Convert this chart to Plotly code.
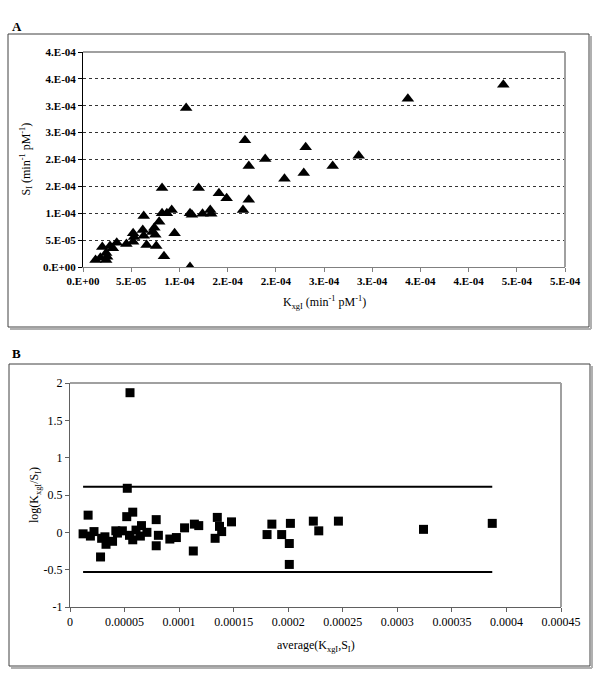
import plotly.graph_objects as go

# ---------------- Panel A data ----------------
kxgi = [1.3e-5, 1.8e-5, 2.4e-5, 2.4e-5, 2.0e-5, 2.8e-5, 3.1e-5, 3.5e-5, 4.5e-5, 5.2e-5,
        5.3e-5, 5.2e-5, 6.2e-5, 6.3e-5, 6.3e-5, 6.6e-5, 7.2e-5, 7.5e-5, 7.4e-5, 7.6e-5,
        7.9e-5, 8.2e-5, 8.2e-5, 8.7e-5, 9.2e-5, 9.5e-5, 8.4e-5, 1.11e-4, 1.11e-4, 1.13e-4,
        1.07e-4, 1.20e-4, 1.24e-4, 1.32e-4, 1.33e-4, 1.41e-4, 1.49e-4, 1.66e-4, 1.72e-4, 1.72e-4,
        1.68e-4, 1.89e-4, 2.09e-4, 2.29e-4, 2.31e-4, 2.59e-4, 2.86e-4, 3.37e-4, 4.36e-4, 2.5e-5]
si = [1.3e-5, 1.7e-5, 1.3e-5, 2.6e-5, 3.7e-5, 3.9e-5, 3.5e-5, 4.5e-5, 4.3e-5, 4.7e-5,
      5.6e-5, 6.3e-5, 6.9e-5, 5.8e-5, 9.5e-5, 4.1e-5, 6.5e-5, 6.0e-5, 7.3e-5, 3.9e-5,
      8.4e-5, 1.00e-4, 1.47e-4, 1.00e-4, 1.06e-4, 6.3e-5, 2.0e-5, 0.0, 1.00e-4, 0.97e-4,
      2.96e-4, 1.47e-4, 0.99e-4, 1.06e-4, 0.99e-4, 1.37e-4, 1.28e-4, 1.06e-4, 1.25e-4, 1.88e-4,
      2.36e-4, 2.01e-4, 1.64e-4, 1.75e-4, 2.23e-4, 1.88e-4, 2.07e-4, 3.13e-4, 3.39e-4, 1.9e-5]

a_xtickvals = [0, 5e-5, 1e-4, 1.5e-4, 2e-4, 2.5e-4, 3e-4, 3.5e-4, 4e-4, 4.5e-4, 5e-4]
a_xticktext = ["0.E+00", "5.E-05", "1.E-04", "2.E-04", "2.E-04", "3.E-04", "3.E-04",
               "4.E-04", "4.E-04", "5.E-04", "5.E-04"]
a_ytickvals = [0, 5e-5, 1e-4, 1.5e-4, 2e-4, 2.5e-4, 3e-4, 3.5e-4, 4e-4]
a_yticktext = ["0.E+00", "5.E-05", "1.E-04", "2.E-04", "2.E-04", "3.E-04", "3.E-04",
               "4.E-04", "4.E-04"]

# ---------------- Panel B data ----------------
avg = [1.2e-5, 1.66e-5, 1.87e-5, 2.2e-5, 2.8e-5, 2.9e-5, 3.2e-5, 3.3e-5, 3.9e-5, 4.2e-5,
       4.35e-5, 4.8e-5, 5.25e-5, 5.2e-5, 5.75e-5, 5.45e-5, 5.75e-5, 6.05e-5, 6.55e-5, 6.45e-5,
       7.05e-5, 7.9e-5, 7.9e-5, 8.1e-5, 9.15e-5, 9.75e-5, 1.05e-4, 1.14e-4, 1.18e-4, 1.13e-4,
       1.33e-4, 1.35e-4, 1.37e-4, 1.39e-4, 1.48e-4, 1.806e-4, 1.85e-4, 1.94e-4, 2.01e-4, 2.02e-4,
       2.01e-4, 2.23e-4, 2.28e-4, 2.46e-4, 3.24e-4, 3.87e-4, 5.5e-5]
logr = [-0.02, 0.23, -0.05, 0.01, -0.33, -0.08, -0.06, -0.16, -0.12, 0.02,
        -0.01, 0.02, 0.59, 0.21, 0.27, -0.04, -0.10, 0.03, 0.09, -0.05,
        0.00, 0.17, -0.18, -0.04, -0.09, -0.07, 0.06, 0.11, 0.09, -0.25,
        -0.08, 0.20, 0.08, 0.01, 0.14, -0.03, 0.11, -0.03, -0.15, 0.12,
        -0.43, 0.15, 0.02, 0.15, 0.04, 0.12, 1.87]

loa_x = [1.2e-5, 3.87e-4]
loa_upper = [0.61, 0.61]
loa_lower = [-0.53, -0.53]

b_xtickvals = [0, 5e-5, 1e-4, 1.5e-4, 2e-4, 2.5e-4, 3e-4, 3.5e-4, 4e-4, 4.5e-4]
b_xticktext = ["0", "0.00005", "0.0001", "0.00015", "0.0002", "0.00025", "0.0003",
               "0.00035", "0.0004", "0.00045"]
b_ytickvals = [-1, -0.5, 0, 0.5, 1, 1.5, 2]
b_yticktext = ["-1", "-0.5", "0", "0.5", "1", "1.5", "2"]

# ---------------- layout helpers ----------------
W, H = 600, 673
def px(x):
    return x / W
def py(y):
    return 1 - y / H

SERIF = '"Liberation Serif", "Times New Roman", serif'

fig = go.Figure()

fig.add_trace(go.Scatter(x=kxgi, y=si, mode="markers", xaxis="x", yaxis="y",
                         marker=dict(symbol="triangle-up", size=11, color="black"),
                         showlegend=False, hoverinfo="x+y"))

fig.add_trace(go.Scatter(x=loa_x, y=loa_upper, mode="lines", xaxis="x2", yaxis="y2",
                         line=dict(color="black", width=2), showlegend=False))
fig.add_trace(go.Scatter(x=loa_x, y=loa_lower, mode="lines", xaxis="x2", yaxis="y2",
                         line=dict(color="black", width=2), showlegend=False))
fig.add_trace(go.Scatter(x=avg, y=logr, mode="markers", xaxis="x2", yaxis="y2",
                         marker=dict(symbol="square", size=9, color="black"),
                         showlegend=False, hoverinfo="x+y"))

A_L, A_R, A_T, A_B = 83, 565, 52, 267
B_L, B_R, B_T, B_B = 70, 561, 383, 607

tickfontA = dict(family=SERIF, size=11, color="black", weight="bold")
tickfontB = dict(family=SERIF, size=12, color="black")

fig.update_layout(
    width=W, height=H,
    margin=dict(l=0, r=0, t=0, b=0, autoexpand=False),
    paper_bgcolor="white", plot_bgcolor="white",
    xaxis=dict(domain=[px(A_L), px(A_R)], range=[0, 5e-4], anchor="y", automargin=False,
               tickmode="array", tickvals=a_xtickvals, ticktext=a_xticktext,
               tickfont=tickfontA, showgrid=False, zeroline=False,
               showline=True, linecolor="#808080", linewidth=1,
               ticks="outside", ticklen=4, tickcolor="#808080"),
    yaxis=dict(domain=[py(A_B), py(A_T)], range=[0, 4e-4], anchor="x", automargin=False,
               tickmode="array", tickvals=a_ytickvals, ticktext=a_yticktext,
               tickfont=tickfontA, showgrid=True, gridcolor="#333333", griddash="dot",
               gridwidth=1, zeroline=False,
               showline=True, linecolor="black", linewidth=1,
               ticks="outside", ticklen=4, tickcolor="black"),
    xaxis2=dict(domain=[px(B_L), px(B_R)], range=[0, 4.5e-4], anchor="y2", automargin=False,
                tickmode="array", tickvals=b_xtickvals, ticktext=b_xticktext,
                tickfont=tickfontB, showgrid=False, zeroline=False,
                showline=True, linecolor="#606060", linewidth=1,
                ticks="outside", ticklen=4, tickcolor="#606060"),
    yaxis2=dict(domain=[py(B_B), py(B_T)], range=[-1, 2], anchor="x2", automargin=False,
                tickmode="array", tickvals=b_ytickvals, ticktext=b_yticktext,
                tickfont=tickfontB, showgrid=False, zeroline=False,
                showline=True, linecolor="#606060", linewidth=1,
                ticks="outside", ticklen=4, tickcolor="#606060"),
)

shapes = []
for (l, t, r, b) in [(8, 34, 589, 327), (9, 364, 590, 666)]:
    shapes.append(dict(type="line", xref="paper", yref="paper",
                       x0=px(l + 2), x1=px(r + 2), y0=py(b + 2), y1=py(b + 2),
                       line=dict(color="#b0b0b0", width=2)))
    shapes.append(dict(type="line", xref="paper", yref="paper",
                       x0=px(r + 2), x1=px(r + 2), y0=py(t + 2), y1=py(b + 2),
                       line=dict(color="#b0b0b0", width=2)))
    shapes.append(dict(type="rect", xref="paper", yref="paper",
                       x0=px(l), x1=px(r), y0=py(b), y1=py(t),
                       line=dict(color="#404040", width=1), fillcolor="rgba(0,0,0,0)"))
for (l, t, r, b) in [(A_L, A_T, A_R, A_B), (B_L, B_T, B_R, B_B)]:
    shapes.append(dict(type="line", xref="paper", yref="paper",
                       x0=px(l), x1=px(r), y0=py(t), y1=py(t),
                       line=dict(color="#a0a0a0", width=2)))
    shapes.append(dict(type="line", xref="paper", yref="paper",
                       x0=px(r), x1=px(r), y0=py(t), y1=py(b),
                       line=dict(color="#a0a0a0", width=2)))
fig.update_layout(shapes=shapes)

annotations = [
    dict(text="<b>A</b>", x=px(10), y=py(27), xanchor="left", yanchor="middle",
         font=dict(family=SERIF, size=13, color="black")),
    dict(text="<b>B</b>", x=px(10), y=py(353), xanchor="left", yanchor="middle",
         font=dict(family=SERIF, size=13, color="black")),
    dict(text="K<sub>xgI</sub> (min<sup>-1</sup> pM<sup>-1</sup>)",
         x=px((A_L + A_R) / 2), y=py(303), xanchor="center", yanchor="middle",
         font=dict(family=SERIF, size=12, color="black")),
    dict(text="S<sub>I</sub> (min<sup>-1</sup> pM<sup>-1</sup>)", textangle=-90,
         x=px(26), y=py((A_T + A_B) / 2), xanchor="center", yanchor="middle",
         font=dict(family=SERIF, size=12, color="black")),
    dict(text="average(K<sub>xgI</sub>,S<sub>I</sub>)",
         x=px((B_L + B_R) / 2), y=py(646), xanchor="center", yanchor="middle",
         font=dict(family=SERIF, size=12, color="black")),
    dict(text="log(K<sub>xgI</sub>/S<sub>I</sub>)", textangle=-90,
         x=px(35), y=py((B_T + B_B) / 2), xanchor="center", yanchor="middle",
         font=dict(family=SERIF, size=12, color="black")),
]
for a in annotations:
    a.update(xref="paper", yref="paper", showarrow=False)
fig.update_layout(annotations=annotations)

fig.write_html("out.html", config={"displayModeBar": False},
               post_script="document.body.style.margin='0';document.body.style.overflow='hidden';")
